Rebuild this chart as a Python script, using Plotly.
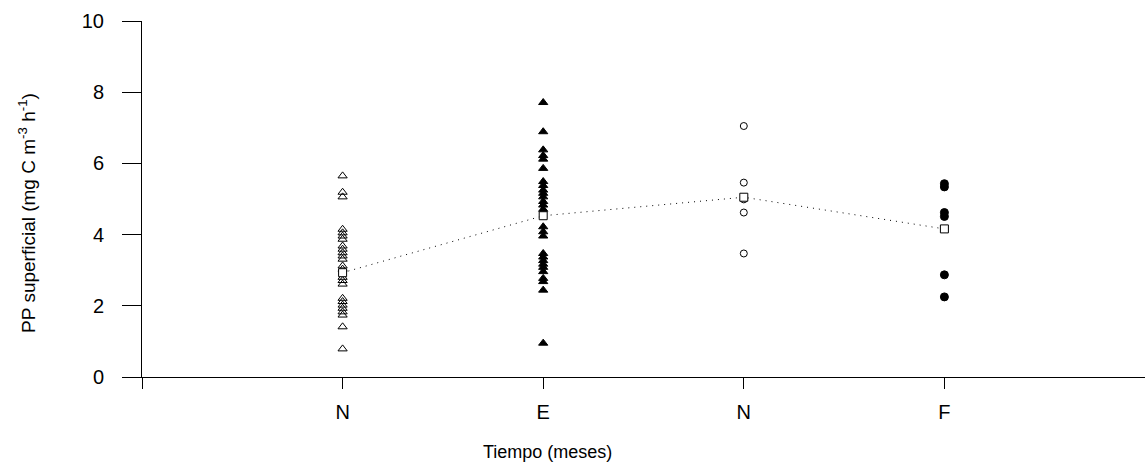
import plotly.graph_objects as go

# Sampling months along the x axis
months = ["N", "E", "N", "F"]
month_pos = [1, 2, 3, 4]

# Surface primary production (mg C m-3 h-1) per sampling
pp_nov1 = [5.65, 5.19, 5.06, 4.15, 4.05, 3.96, 3.87, 3.68, 3.59, 3.49, 3.40, 3.31,
           3.12, 3.03, 2.80, 2.71, 2.61, 2.21, 2.12, 2.02, 1.93, 1.83, 1.74, 1.41, 0.79]
pp_ene = [7.71, 6.89, 6.38, 6.22, 6.12, 5.86, 5.49, 5.38, 5.25, 5.16, 5.06, 4.93,
          4.83, 4.71, 4.22, 4.08, 3.96, 3.47, 3.37, 3.27, 3.17, 3.08, 2.96, 2.77,
          2.68, 2.44, 0.95]
pp_nov2 = [7.05, 5.46, 4.99, 4.62, 3.47]
pp_feb = [5.43, 5.34, 4.62, 4.51, 2.87, 2.25]

# Mean per sampling
pp_mean = [2.93, 4.53, 5.05, 4.16]

FONT = "Liberation Sans, Arial, sans-serif"

fig = go.Figure()

groups = [
    (pp_nov1, month_pos[0], "triangle-up-open", 8),
    (pp_ene, month_pos[1], "triangle-up", 8),
    (pp_nov2, month_pos[2], "circle-open", 7),
    (pp_feb, month_pos[3], "circle", 8),
]
for vals, xpos, sym, size in groups:
    fig.add_trace(go.Scatter(
        x=[xpos] * len(vals), y=vals, mode="markers",
        marker=dict(symbol=sym, size=size, color="black",
                    line=dict(color="black", width=1)),
        showlegend=False, hoverinfo="y",
    ))

# Means joined by a sparse dotted line
fig.add_trace(go.Scatter(
    x=month_pos, y=pp_mean, mode="lines+markers",
    line=dict(color="black", width=1, dash="1px,5px"),
    marker=dict(symbol="square", size=8, color="white",
                line=dict(color="black", width=1)),
    showlegend=False, hoverinfo="y",
))

# Axis titles
fig.add_annotation(
    text="PP superficial (mg C m<sup>-3</sup> h<sup>-1</sup>)",
    xref="paper", yref="paper", x=-0.114, y=0.46,
    xanchor="center", yanchor="middle", textangle=-90, showarrow=False,
    font=dict(size=19, family=FONT, color="black"),
)
fig.add_annotation(
    text="Tiempo (meses)",
    xref="x", yref="paper", x=2.02, y=-0.21,
    xanchor="center", yanchor="middle", showarrow=False,
    font=dict(size=18, family=FONT, color="black"),
)

fig.update_layout(
    width=1145, height=471,
    margin=dict(l=142, r=0, t=21, b=94),
    paper_bgcolor="white", plot_bgcolor="white",
    font=dict(family=FONT, color="black"),
    xaxis=dict(
        range=[0, 5.0], tickvals=[0] + month_pos, ticktext=[""] + months,
        showline=True, linecolor="black", linewidth=1,
        ticks="outside", ticklen=11, tickcolor="black", tickwidth=1,
        showgrid=False, zeroline=False,
        tickfont=dict(size=20, family=FONT), ticklabelstandoff=6,
    ),
    yaxis=dict(
        range=[0, 10], tickvals=[0, 2, 4, 6, 8, 10],
        showline=True, linecolor="black", linewidth=1,
        ticks="outside", ticklen=19, tickcolor="black", tickwidth=1,
        showgrid=False, zeroline=False,
        tickfont=dict(size=20, family=FONT), ticklabelstandoff=14,
    ),
)

fig.write_html("out.html")
